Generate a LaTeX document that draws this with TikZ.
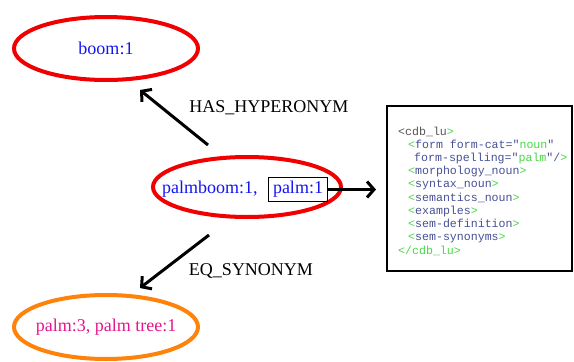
\documentclass[tikz,border=0pt]{standalone}
\usepackage{fontspec}
\setmainfont{Liberation Serif}
\setmonofont{Liberation Mono}
\usetikzlibrary{shapes.geometric,arrows.meta}
\definecolor{redc}{RGB}{240,0,0}
\definecolor{orangec}{RGB}{255,130,10}
\definecolor{bluet}{RGB}{20,20,240}
\definecolor{pinkt}{RGB}{230,20,140}
\definecolor{gr}{RGB}{70,215,70}
\definecolor{tg}{RGB}{70,80,150}
\definecolor{gy}{RGB}{85,85,85}
\tikzset{
  ell/.style={ellipse, draw, line width=4pt, inner sep=0pt},
  rel/.style={line width=3pt, -{Straight Barb[length=7pt,width=16pt,line width=3pt]}},
  lbl/.style={font=\fontsize{18}{20}\selectfont, text=black, inner sep=0pt},
  etext/.style={font=\fontsize{18}{20}\selectfont, inner sep=0pt},
  code/.style={font=\ttfamily\fontsize{11.6}{13}\selectfont, anchor=base west, inner sep=0pt, text=tg}
}
\newcommand{\lt}{\textcolor{gr}{<}}
\newcommand{\gt}{\textcolor{gr}{>}}
\begin{document}
\begin{tikzpicture}[x=1pt,y=-1pt]
\useasboundingbox (0,0) rectangle (574,362);
% ellipses
\node[ell, draw=redc, minimum width=184, minimum height=63] (boom) at (106,48.5) {};
\node[etext, text=bluet] (boomt) at (boom.center) {boom:1};
\node[ell, draw=redc, minimum width=188, minimum height=60] (palmboom) at (247,187) {};
\node[ell, draw=orangec, minimum width=184, minimum height=64] (palm) at (106,327) {};
\node[etext, text=pinkt] (palmt) at (palm.center) {palm:3, palm tree:1};
% texts inside palmboom
\node[etext, text=bluet, anchor=west] (pbtext) at (162,189) {palmboom:1,};
\node[draw, line width=1.6pt, text=bluet, font=\fontsize{18}{20}\selectfont, minimum width=59, minimum height=24, inner sep=0pt] (palmbox) at (298,189.5) {palm:1};
% code box
\node[draw, line width=2pt, minimum width=185, minimum height=165, inner sep=0pt] (codebox) at (479.5,188.5) {};
% relations
\coordinate (h1) at (208,145);
\coordinate (h2) at (140,90);
\coordinate (s1) at (209,235);
\coordinate (s2) at (140,288);
\draw[rel] (h1) -- (h2);
\draw[rel] (s1) -- (s2);
\draw[rel] (palmbox.east) -- (376,189.5);
\node[lbl] (hyp) at (269,107.5) {HAS\_HYPERONYM};
\node[lbl] (syn) at (251,270.5) {EQ\_SYNONYM};
% code lines
\node[code] (c1) at (398,135) {\textcolor{gy}{<cdb\_lu}\gt};
\node[code] (c2) at (408,148) {\lt form form-cat="\textcolor{gr}{noun}"};
\node[code] (c3) at (414,161) {form-spelling="\textcolor{gr}{palm}"/\gt};
\node[code] (c4) at (408,174.5) {\lt morphology\_noun\gt};
\node[code] (c5) at (408,187.5) {\lt syntax\_noun\gt};
\node[code] (c6) at (408,201) {\lt semantics\_noun\gt};
\node[code] (c7) at (408,214) {\lt examples\gt};
\node[code] (c8) at (408,227.5) {\lt sem-definition\gt};
\node[code] (c9) at (408,240.5) {\lt sem-synonyms\gt};
\node[code, text=gr] (c10) at (398,254) {</cdb\_lu>};
\end{tikzpicture}
\end{document}
